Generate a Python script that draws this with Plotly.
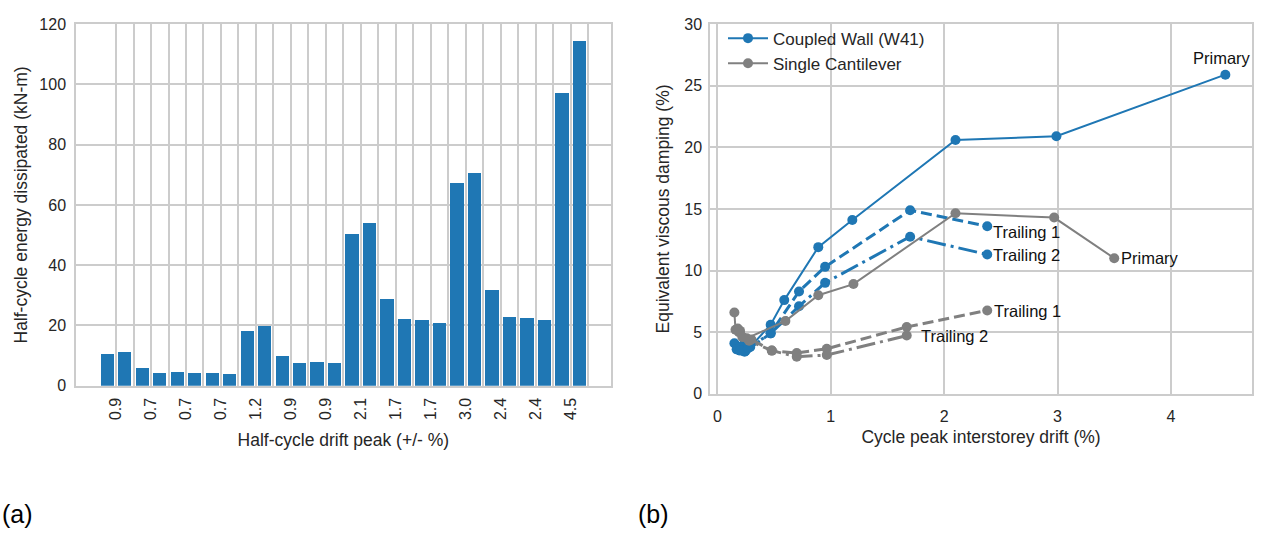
import plotly.graph_objects as go

# ---- (a) half-cycle energy dissipated per half-cycle ----
energy_knm = [10.5, 11.2, 5.8, 4.0, 4.4, 4.0, 4.3, 3.8, 18.0, 19.6,
              9.9, 7.5, 7.8, 7.4, 50.4, 53.9, 28.6, 22.2, 21.7, 20.9,
              67.1, 70.6, 31.7, 22.9, 22.4, 21.8, 97.0, 114.4]
drift_peak_labels = ["0.9", "0.7", "0.7", "0.7", "1.2", "0.9", "0.9",
                     "2.1", "1.7", "1.7", "3.0", "2.4", "2.4", "4.5"]

# ---- (b) equivalent viscous damping vs cycle peak drift ----
cw_primary_x = [0.15, 0.18, 0.22, 0.25, 0.29, 0.47, 0.59, 0.89, 1.19, 2.10, 2.99, 4.48]
cw_primary_y = [4.1, 3.6, 3.9, 3.5, 3.8, 5.6, 7.6, 11.9, 14.1, 20.6, 20.9, 25.9]
cw_trail1_x = [0.17, 0.24, 0.47, 0.72, 0.95, 1.70, 2.38]
cw_trail1_y = [3.6, 3.4, 4.9, 8.3, 10.3, 14.9, 13.6]
cw_trail2_x = [0.20, 0.27, 0.47, 0.72, 0.95, 1.70, 2.38]
cw_trail2_y = [3.5, 3.7, 4.9, 7.1, 9.0, 12.75, 11.3]

sc_primary_x = [0.15, 0.16, 0.19, 0.22, 0.26, 0.60, 0.89, 1.20, 2.10, 2.97, 3.50]
sc_primary_y = [6.6, 5.2, 5.0, 4.6, 4.5, 5.9, 8.0, 8.9, 14.65, 14.3, 11.0]
sc_trail1_x = [0.20, 0.30, 0.48, 0.70, 0.965, 1.67, 2.38]
sc_trail1_y = [5.1, 4.4, 3.5, 3.3, 3.65, 5.42, 6.76]
sc_trail2_x = [0.18, 0.28, 0.48, 0.70, 0.965, 1.67]
sc_trail2_y = [5.3, 4.3, 3.5, 3.0, 3.14, 4.72]

W, H = 1263, 538
BLUE = "#1f77b4"
GREY = "#808080"
GRID = "#cccccc"
TXT = "#262626"
FONT = "Liberation Sans, Arial, sans-serif"

fig = go.Figure()

# bars sit at integer positions; ticks/gridlines fall on the gaps between bars
n = len(energy_knm)
fig.add_trace(go.Bar(
    x=list(range(n)), y=energy_knm, width=0.76,
    marker=dict(color=BLUE, line=dict(width=0)),
    showlegend=False, xaxis="x", yaxis="y",
))

tick_vals = [k + 0.5 for k in range(n)]
tick_text = []
for k in range(n):
    tick_text.append(drift_peak_labels[k // 2] if k % 2 == 0 else "")

solid = "solid"
dash = "11px,5px"
dashdot = "19px,5px,3px,5px"

series = [
    (cw_primary_x, cw_primary_y, BLUE, solid, 2, "Coupled Wall (W41)", True),
    (cw_trail1_x, cw_trail1_y, BLUE, dash, 3, None, False),
    (cw_trail2_x, cw_trail2_y, BLUE, dashdot, 3, None, False),
    (sc_primary_x, sc_primary_y, GREY, solid, 2, "Single Cantilever", True),
    (sc_trail1_x, sc_trail1_y, GREY, dash, 3, None, False),
    (sc_trail2_x, sc_trail2_y, GREY, dashdot, 3, None, False),
]
for i, (xs, ys, col, dsh, lw, name, show) in enumerate(series):
    fig.add_trace(go.Scatter(
        x=xs, y=ys, mode="lines+markers",
        line=dict(color=col, width=lw, dash=dsh),
        marker=dict(color=col, size=10),
        name=name, showlegend=show, legendgroup=f"g{i}",
        xaxis="x2", yaxis="y2",
    ))

ann_font = dict(family=FONT, size=16.5, color="#111111")
labels = [
    (cw_primary_x, cw_primary_y, "Primary", "center", "bottom", -3, 6),
    (cw_trail1_x, cw_trail1_y, "Trailing 1", "left", "middle", 4, -6),
    (cw_trail2_x, cw_trail2_y, "Trailing 2", "left", "middle", 4, 0),
    (sc_primary_x, sc_primary_y, "Primary", "left", "middle", 5, 0),
    (sc_trail1_x, sc_trail1_y, "Trailing 1", "left", "middle", 5, -1),
    (sc_trail2_x, sc_trail2_y, "Trailing 2", "left", "middle", 12, 0),
]
annotations = []
for xs, ys, txt, xa, ya, dx, dy in labels:
    annotations.append(dict(
        x=xs[-1], y=ys[-1], xref="x2", yref="y2", text=txt, showarrow=False,
        xanchor=xa, yanchor=ya, xshift=dx, yshift=dy, font=ann_font,
    ))

panel_font = dict(family=FONT, size=25, color="#000000")
annotations.append(dict(x=0, y=(538 - 522) / H, xref="paper", yref="paper", text="(a)",
                        showarrow=False, xanchor="left", yanchor="middle", font=panel_font))
annotations.append(dict(x=636 / W, y=(538 - 522) / H, xref="paper", yref="paper", text="(b)",
                        showarrow=False, xanchor="left", yanchor="middle", font=panel_font))

axis_common = dict(
    showline=True, mirror=True, linecolor=GRID, linewidth=1.5,
    showgrid=True, gridcolor=GRID, gridwidth=1.5, zeroline=False,
    ticks="", tickfont=dict(family=FONT, size=16, color=TXT),
)
title_font = dict(family=FONT, size=17.5, color=TXT)

fig.update_layout(
    width=W, height=H,
    margin=dict(l=0, r=0, t=0, b=0),
    paper_bgcolor="white", plot_bgcolor="white",
    bargap=0,
    xaxis=dict(domain=[76 / W, 610.7 / W], range=[-1.79, 28.79],
               tickmode="array", tickvals=tick_vals, ticktext=tick_text,
               tickangle=-90, anchor="y", ticklabelstandoff=4,
               title=dict(text="Half-cycle drift peak (+/- %)", font=title_font, standoff=15),
               **axis_common),
    yaxis=dict(domain=[1 - 390 / H, 1 - 16.7 / H], range=[0, 120], dtick=20,
               anchor="x", ticklabelstandoff=5,
               title=dict(text="Half-cycle energy dissipated (kN-m)", font=title_font, standoff=7),
               **axis_common),
    xaxis2=dict(domain=[710 / W, 1252 / W], range=[-0.065, 4.715], dtick=1,
                anchor="y2", ticklabelstandoff=7,
                title=dict(text="Cycle peak interstorey drift (%)", font=title_font, standoff=7),
                **axis_common),
    yaxis2=dict(domain=[1 - 398.3 / H, 1 - 16.7 / H], range=[0, 30], dtick=5,
                anchor="x2", ticklabelstandoff=3,
                title=dict(text="Equivalent viscous damping (%)", font=title_font, standoff=10),
                **axis_common),
    legend=dict(x=723 / W, y=1 - 13 / H, xanchor="left", yanchor="top",
                bgcolor="rgba(255,255,255,0)", borderwidth=0,
                font=dict(family=FONT, size=17, color=TXT),
                tracegroupgap=0, itemwidth=40),
    annotations=annotations,
    font=dict(family=FONT, color=TXT),
)

fig.write_html("out.html")
